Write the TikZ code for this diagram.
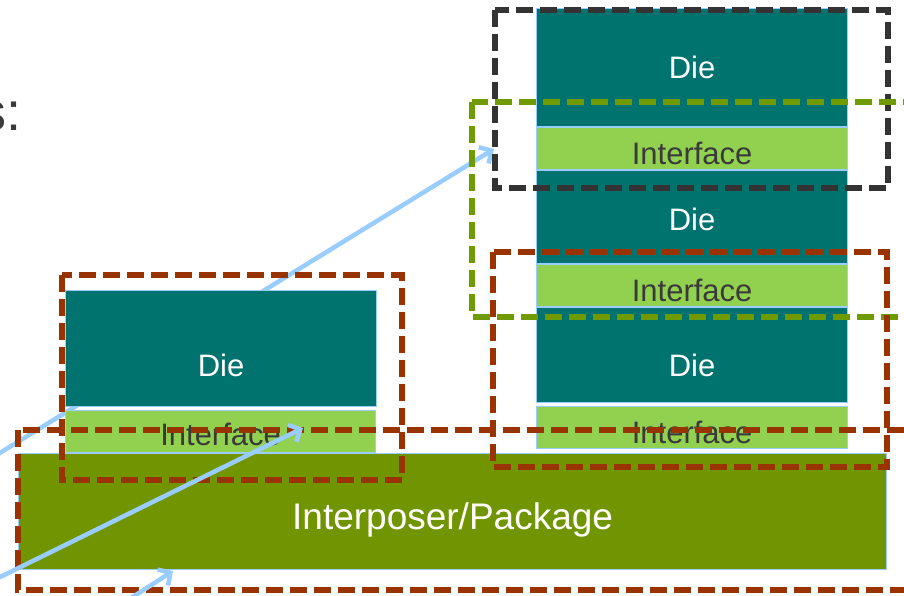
\documentclass[tikz,border=0pt]{standalone}
\usepackage{fontspec}
\setmainfont{Liberation Sans}
\usetikzlibrary{arrows.meta,positioning}
\definecolor{dieteal}{HTML}{00736F}
\definecolor{ifgreen}{HTML}{92D050}
\definecolor{pkgolive}{HTML}{719500}
\definecolor{edgeblue}{HTML}{99CCFF}
\definecolor{rustred}{HTML}{993300}
\definecolor{dashgreen}{HTML}{6F9A00}
\definecolor{dashgray}{HTML}{333333}
\definecolor{txtgray}{HTML}{3A3A3A}

\begin{document}
\begin{tikzpicture}[x=1pt, y=-1pt,
	box/.style={draw=edgeblue, line width=1.2pt, inner sep=0pt, anchor=north west, minimum width=311pt},
	die/.style={box, fill=dieteal, text=white, font=\fontsize{31}{31}\selectfont},
	iface/.style={box, fill=ifgreen, text=txtgray, minimum height=42pt, text height=32pt, text depth=0pt, font=\fontsize{31}{31}\selectfont},
	groupbox/.style={line width=5.5pt, dash pattern=on 17pt off 7pt},
	flow/.style={draw=edgeblue, line width=4.5pt, -{Straight Barb[length=9pt, width=19pt]}}]
	\useasboundingbox (0,0) rectangle (904,595);
	\clip (0,0) rectangle (904,595);
	\fill[white] (0,0) rectangle (904,595);
	\node[anchor=base east, text=txtgray, inner sep=0pt, font=\fontsize{54}{54}\selectfont] (title) at (22,130) {s:};
	\coordinate (f1s) at (-10,459);
	\coordinate (f1e) at (494,149);
	\draw[flow] (f1s) -- (f1e);
	\node[box, fill=pkgolive, text=white, minimum width=868pt, minimum height=116pt, text height=35pt, text depth=0pt, font=\fontsize{37}{37}\selectfont] (pkg) at (18,453) {Interposer/Package};
	\node[die, minimum height=116pt, text height=56pt, text depth=0pt] (ldie) at (65,290) {Die};
	\node[iface, minimum width=310pt, text height=28pt] (lif) at (65,410) {Interface};
	\node[die, minimum height=118pt] (rdie1) at (536,8) {Die};
	\node[iface] (rif1) at (536,127) {Interface};
	\node[die, minimum height=93pt, text height=26pt, text depth=0pt] (rdie2) at (536,170) {Die};
	\node[iface] (rif2) at (536,264) {Interface};
	\node[die, minimum height=95pt, text height=42pt, text depth=0pt] (rdie3) at (536,307) {Die};
	\node[iface] (rif3) at (536,406) {Interface};
	\draw[groupbox, draw=dashgray] (495,10) rectangle (888,188);
	\draw[groupbox, draw=dashgreen] (472,102) rectangle (925,317);
	\draw[groupbox, draw=rustred] (493,252) rectangle (887,467);
	\draw[groupbox, draw=rustred] (62,275) rectangle (402,480);
	\draw[groupbox, draw=rustred] (18,430) rectangle (925,590);
	\coordinate (f2s) at (-10,582);
	\coordinate (f2e) at (303,428);
	\draw[flow] (f2s) -- (f2e);
	\coordinate (f3s) at (125,602);
	\coordinate (f3e) at (173,571);
	\draw[flow] (f3s) -- (f3e);
\end{tikzpicture}
\end{document}
